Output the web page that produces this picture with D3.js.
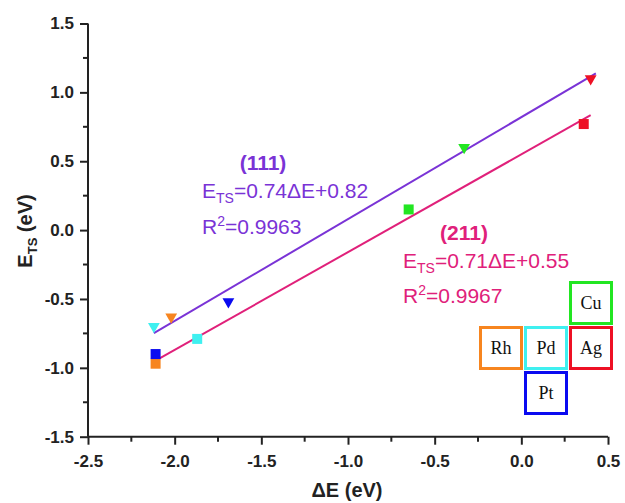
<!DOCTYPE html>
<html>
<head>
<meta charset="utf-8">
<script src="https://cdn.jsdelivr.net/npm/d3@7/dist/d3.min.js"></script>
<style>
  html, body { margin: 0; padding: 0; background: #fff; }
  svg { display: block; }
</style>
</head>
<body>
<svg id="chart" width="625" height="503"></svg>
<script>
// ---- data ----
const metals = ["Pd", "Rh", "Pt", "Cu", "Ag"];
const metalColors = ["#3ff0f0", "#f7851f", "#0a0af0", "#22e622", "#ee1024"];
// (111) facet: triangles
const dE111 = [-2.12, -2.02, -1.69, -0.33, 0.40];
const ets111 = [-0.70, -0.63, -0.52, 0.60, 1.10];
// (211) facet: squares
const dE211 = [-1.87, -2.11, -2.11, -0.65, 0.36];
const ets211 = [-0.79, -0.97, -0.90, 0.15, 0.77];
// fits
const fit111 = { slope: 0.74, intercept: 0.82, x0: -2.12, x1: 0.43 };
const fit211 = { slope: 0.71, intercept: 0.55, x0: -2.11, x1: 0.40 };
const xTicks = [-2.5, -2.0, -1.5, -1.0, -0.5, 0.0, 0.5];
const yTicks = [-1.5, -1.0, -0.5, 0.0, 0.5, 1.0, 1.5];
const xMinor = [-2.25, -1.75, -1.25, -0.75, -0.25, 0.25];
const yMinor = [-1.25, -0.75, -0.25, 0.25, 0.75, 1.25];
// legend grid layout (col,row)
const legendCells = [
  { name: "Cu", col: 2, row: 0 },
  { name: "Rh", col: 0, row: 1 },
  { name: "Pd", col: 1, row: 1 },
  { name: "Ag", col: 2, row: 1 },
  { name: "Pt", col: 1, row: 2 }
];

const svg = d3.select("#chart");
const x = d3.scaleLinear().domain([-2.5, 0.5]).range([88, 608]);
const y = d3.scaleLinear().domain([-1.5, 1.5]).range([436.7, 23.5]);

const purple = "#7a33d6";
const pink = "#e0207a";
const fmt = d => d3.format(".1f")(d).replace("\u2212", "-");

// axes
const xAxis = d3.axisBottom(x).tickValues(xTicks).tickSize(8).tickPadding(10).tickFormat(fmt);
const yAxis = d3.axisLeft(y).tickValues(yTicks).tickSize(8).tickPadding(6).tickFormat(fmt);

const gx = svg.append("g").attr("transform", `translate(0,${y(-1.5)})`).call(xAxis);
const gy = svg.append("g").attr("transform", `translate(${x(-2.5)},0)`).call(yAxis);
[gx, gy].forEach(g => {
  g.select(".domain").attr("stroke", "#222").attr("stroke-width", 2);
  g.selectAll(".tick line").attr("stroke", "#222").attr("stroke-width", 2);
  g.selectAll(".tick text").attr("fill", "#222")
    .style("font-family", "Liberation Sans, Arial, sans-serif")
    .style("font-weight", "bold").style("font-size", "17px");
});
gx.selectAll(".domain").attr("d", `M${x(-2.5)},0H${x(0.5)}`);
gy.selectAll(".domain").attr("d", `M0,${y(-1.5)}V${y(1.5)}`);

// minor ticks
svg.append("g").selectAll("line").data(xMinor).join("line")
  .attr("x1", d => x(d)).attr("x2", d => x(d))
  .attr("y1", y(-1.5)).attr("y2", y(-1.5) + 5)
  .attr("stroke", "#222").attr("stroke-width", 2);
svg.append("g").selectAll("line").data(yMinor).join("line")
  .attr("y1", d => y(d)).attr("y2", d => y(d))
  .attr("x1", x(-2.5)).attr("x2", x(-2.5) - 5)
  .attr("stroke", "#222").attr("stroke-width", 2);

// axis titles
svg.append("text").attr("x", 347).attr("y", 497).attr("text-anchor", "middle")
  .style("font-family", "Liberation Sans, Arial, sans-serif")
  .style("font-weight", "bold").style("font-size", "20px").attr("fill", "#222")
  .text("ΔE (eV)");
const yt = svg.append("text").attr("transform", "translate(32,231) rotate(-90)")
  .attr("text-anchor", "middle")
  .style("font-family", "Liberation Sans, Arial, sans-serif")
  .style("font-weight", "bold").style("font-size", "20px").attr("fill", "#222");
yt.append("tspan").text("E");
yt.append("tspan").attr("dy", 5).style("font-size", "13px").text("TS");
yt.append("tspan").attr("dy", -5).text(" (eV)");

// fit lines
const line = d3.line().x(d => x(d[0])).y(d => y(d[1]));
function fitPts(f) {
  return [[f.x0, f.slope * f.x0 + f.intercept], [f.x1, f.slope * f.x1 + f.intercept]];
}
svg.append("path").attr("d", line(fitPts(fit211))).attr("stroke", pink)
  .attr("stroke-width", 2).attr("fill", "none");
svg.append("path").attr("d", line(fitPts(fit111))).attr("stroke", purple)
  .attr("stroke-width", 2).attr("fill", "none");

// markers
const tri = d3.symbol().type(d3.symbolTriangle).size(60);
svg.append("g").selectAll("path").data(metals).join("path")
  .attr("d", tri)
  .attr("transform", (d, i) => `translate(${x(dE111[i])},${y(ets111[i])}) rotate(180)`)
  .attr("fill", (d, i) => metalColors[i]);
svg.append("g").selectAll("rect").data(metals).join("rect")
  .attr("x", (d, i) => x(dE211[i]) - 5).attr("y", (d, i) => y(ets211[i]) - 5)
  .attr("width", 10).attr("height", 10)
  .attr("fill", (d, i) => metalColors[i]);

// annotations
function annot(color, xx, yTitle, gap, title, slope, icpt, r2) {
  const ff = "Liberation Sans, Arial, sans-serif";
  svg.append("text").attr("x", xx.title).attr("y", yTitle).attr("text-anchor", "middle")
    .style("font-family", ff).style("font-weight", "bold").style("font-size", "21px")
    .attr("fill", color).text(title);
  const t = svg.append("text").attr("x", xx.eq).attr("y", yTitle + 28)
    .style("font-family", ff).style("font-size", "21px").attr("fill", color);
  t.append("tspan").text("E");
  t.append("tspan").attr("dy", 5).style("font-size", "14px").text("TS");
  t.append("tspan").attr("dy", -5).text(`=${slope}ΔE+${icpt}`);
  const r = svg.append("text").attr("x", xx.eq).attr("y", yTitle + 28 + gap)
    .style("font-family", ff).style("font-size", "21px").attr("fill", color);
  r.append("tspan").text("R");
  r.append("tspan").attr("dy", -8).style("font-size", "14px").text("2");
  r.append("tspan").attr("dy", 8).text(`=${r2}`);
}
annot(purple, { title: 263, eq: 202 }, 170, 36, "(111)", "0.74", "0.82", "0.9963");
annot(pink, { title: 464, eq: 403 }, 240, 35, "(211)", "0.71", "0.55", "0.9967");

// legend
const cell = 44, lx0 = 479, ly0 = 281;
const lg = svg.append("g").selectAll("g").data(legendCells).join("g")
  .attr("transform", d => `translate(${lx0 + d.col * (cell + 1)},${ly0 + d.row * (cell + 1)})`);
lg.append("rect").attr("x", 1.5).attr("y", 1.5).attr("width", cell - 3).attr("height", cell - 3)
  .attr("fill", "#fff").attr("stroke-width", 3)
  .attr("stroke", d => metalColors[metals.indexOf(d.name)]);
lg.append("text").attr("x", cell / 2).attr("y", cell / 2 + 6).attr("text-anchor", "middle")
  .style("font-family", "Liberation Serif, Times New Roman, serif").style("font-size", "18px")
  .attr("fill", "#111").text(d => d.name);
</script>
</body>
</html>
